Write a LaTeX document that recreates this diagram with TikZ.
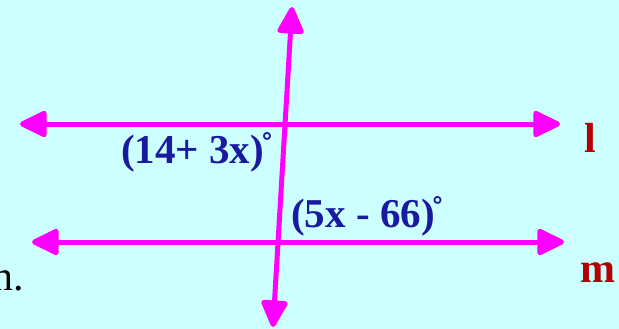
\documentclass[tikz,border=0pt]{standalone}
\usepackage{fontspec}
\setmainfont{Liberation Serif}
\newfontfamily\degfont{DejaVu Sans}
\usetikzlibrary{arrows.meta}
\definecolor{bgc}{RGB}{204,255,255}
\definecolor{mag}{RGB}{255,0,255}
\definecolor{lblue}{RGB}{26,26,160}
\definecolor{lred}{RGB}{180,0,0}
\tikzset{
  parline/.style={line width=5pt, draw=mag, {Triangle[length=30pt,width=28pt,round]}-{Triangle[length=30pt,width=28pt,round]}},
  anglbl/.style={font=\fontsize{41}{41}\selectfont\bfseries, text=lblue, inner sep=0pt},
  linelbl/.style={font=\fontsize{42}{42}\selectfont\bfseries, text=lred, inner sep=0pt},
}
\newcommand{\degmark}{\kern-3pt\raisebox{13pt}{\degfont\fontsize{24}{24}\selectfont\bfseries °}}
\begin{document}
\begin{tikzpicture}[x=1pt,y=-1pt]
\fill[bgc] (0,0) rectangle (619,329);
\useasboundingbox (0,0) rectangle (619,329);
\coordinate (lA) at (20,124);
\coordinate (lB) at (560,124);
\coordinate (mA) at (32,242);
\coordinate (mB) at (564,242);
\coordinate (tA) at (292,7);
\coordinate (tB) at (273,327);
\draw[parline] (lA) -- (lB);
\draw[parline] (mA) -- (mB);
\draw[parline] (tA) -- (tB);
\node[anglbl, anchor=base west] (a1) at (121,163) {(14+ 3x)\degmark};
\node[anglbl, anchor=base west] (a2) at (291,227) {(5x - 66)\degmark};
\node[linelbl, anchor=base] (ll) at (590,153) {l};
\node[linelbl, anchor=base] (lm) at (598,282) {m};
\node[font=\fontsize{42}{42}\selectfont, inner sep=0pt, anchor=base east] (nn) at (24,290) {n.};
\end{tikzpicture}
\end{document}
